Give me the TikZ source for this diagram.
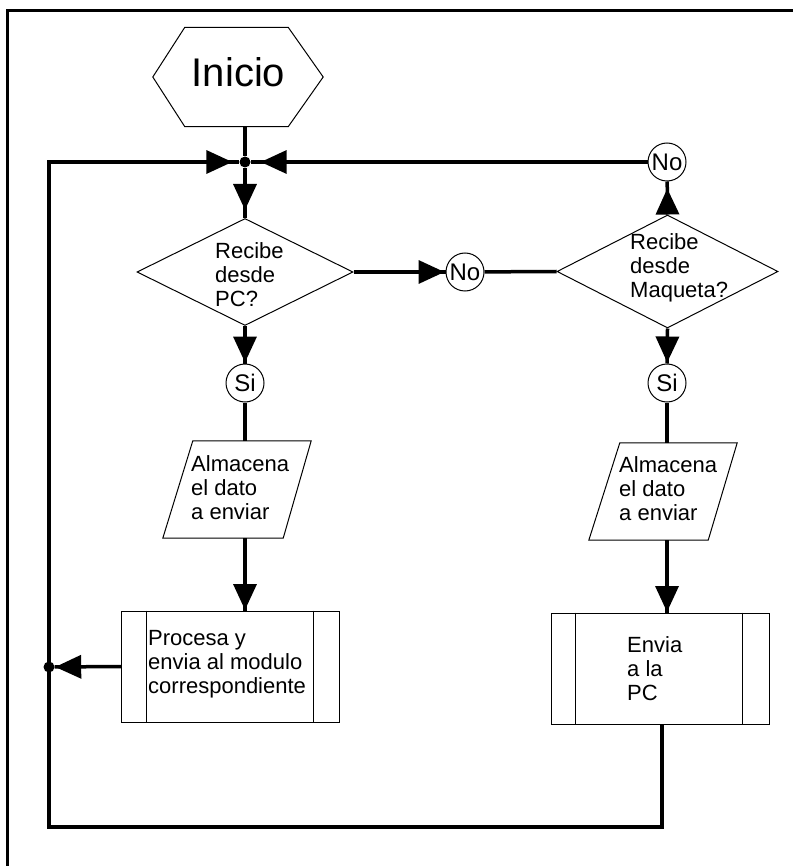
\documentclass[tikz,border=0pt]{standalone}
\usepackage{fontspec}
\setmainfont{Liberation Sans}
\usetikzlibrary{shapes.geometric,arrows.meta,decorations.markings,calc}
\begin{document}
\begin{tikzpicture}[x=1pt,y=-1pt,
  conn/.style={line width=3.5pt},
  outline/.style={draw, line width=1pt},
  tipat/.style={decoration={markings, mark=at position #1 with {\arrow{Triangle[length=26pt,width=23pt]}}}, postaction={decorate}},
  txt/.style={font=\fontsize{22}{24}\selectfont, align=left, inner sep=0, anchor=north west},
  conncircle/.style={circle, draw, line width=1pt, minimum size=38pt, inner sep=0, font=\fontsize{24}{24}\selectfont, fill=white},
  jdot/.style={circle, fill, inner sep=0, minimum size=11pt},
  parabox/.style={rectangle, minimum width=148pt, minimum height=97pt, inner sep=0},
  procbox/.style={rectangle, outline, minimum width=218pt, minimum height=111pt, inner sep=0}
]
\useasboundingbox (0,0) rectangle (793,866);
% frame
\draw[line width=3pt] (7,866) -- (7,11) -- (793,11);

% start hexagon
\node[minimum width=170pt, minimum height=99pt, inner sep=0] (start) at (238,77) {};
\draw[outline] (start.west) -- ($(start.north west)+(32,0)$) -- ($(start.north east)+(-35,0)$) -- (start.east) -- ($(start.south east)+(-35,0)$) -- ($(start.south west)+(32,0)$) -- cycle;
\node[font=\fontsize{40}{40}\selectfont, inner sep=0] (starttxt) at (238.5,72) {Inicio};

% junctions and loop corners
\node[jdot] (J) at (245,162) {};
\node[jdot] (D) at (49,667) {};
\coordinate (LT) at (49,162);
\coordinate (LB) at (49,827);
\coordinate (RB) at (662,827);

% decisions
\node[diamond, outline, minimum width=216pt, minimum height=107pt, inner sep=0] (d1) at (245,272) {};
\node[txt] (d1t) at (215,242) {Recibe\\desde\\PC?};
\node[diamond, outline, minimum width=221pt, minimum height=113pt, inner sep=0] (d2) at (667.5,271.5) {};
\node[txt] (d2t) at (630,233) {Recibe\\desde\\Maqueta?};

% circles
\node[conncircle] (no1) at (465,272) {No};
\node[conncircle] (no2) at (667,162) {No};
\node[conncircle] (si1) at (245,383) {Si};
\node[conncircle] (si2) at (667,383) {Si};

% data
\node[parabox] (p1) at (237,489.5) {};
\draw[outline] (p1.south west) -- ($(p1.north west)+(30,0)$) -- (p1.north east) -- ($(p1.south east)+(-28,0)$) -- cycle;
\node[txt] (p1t) at (191,455) {Almacena\\el dato\\a enviar};
\node[parabox] (p2) at (663,491.5) {};
\draw[outline] (p2.south west) -- ($(p2.north west)+(31,0)$) -- (p2.north east) -- ($(p2.south east)+(-29,0)$) -- cycle;
\node[txt] (p2t) at (619,456) {Almacena\\el dato\\a enviar};

% processes
\node[procbox] (b1) at (230.5,666.5) {};
\draw[line width=1pt] ([xshift=25pt]b1.north west) -- ([xshift=25pt]b1.south west);
\draw[line width=1pt] ([xshift=-27pt]b1.north east) -- ([xshift=-27pt]b1.south east);
\node[txt] (b1t) at (148,630) {Procesa y\\envia al modulo\\correspondiente};
\node[procbox] (b2) at (660,668.5) {};
\draw[line width=1pt] ([xshift=25pt]b2.north west) -- ([xshift=25pt]b2.south west);
\draw[line width=1pt] ([xshift=-27pt]b2.north east) -- ([xshift=-27pt]b2.south east);
\node[txt] (b2t) at (627,636) {Envia\\a la\\PC};

% connectors
\draw[conn] (start.south -| J) -- (J);
\draw[conn, tipat=-8pt] (J) -- (d1.north);
\draw[conn, tipat=-7pt] (b2.south -| RB) -- (RB) -- (LB) -- (LT) -- (J);
\draw[conn, tipat=-10pt] (no2) -- (J);
\draw[conn, tipat=-1pt] (d1.east) -- (no1);
\draw[conn] (no1) -- (d2.west);
\draw[conn, tipat=-7pt] (d2.north) -- (no2);
\draw[conn, tipat=-1pt] (d1.south) -- (si1);
\draw[conn] (si1) -- (si1 |- p1.north);
\draw[conn, tipat=-0.5pt] (si1 |- p1.south) -- (si1 |- b1.north);
\draw[conn, tipat=-0.5pt] (b1.west) -- (D);
\draw[conn, tipat=-1pt] (d2.south) -- (si2);
\draw[conn] (si2) -- (si2 |- p2.north);
\draw[conn, tipat=-0.5pt] (si2 |- p2.south) -- (si2 |- b2.north);
\end{tikzpicture}
\end{document}
